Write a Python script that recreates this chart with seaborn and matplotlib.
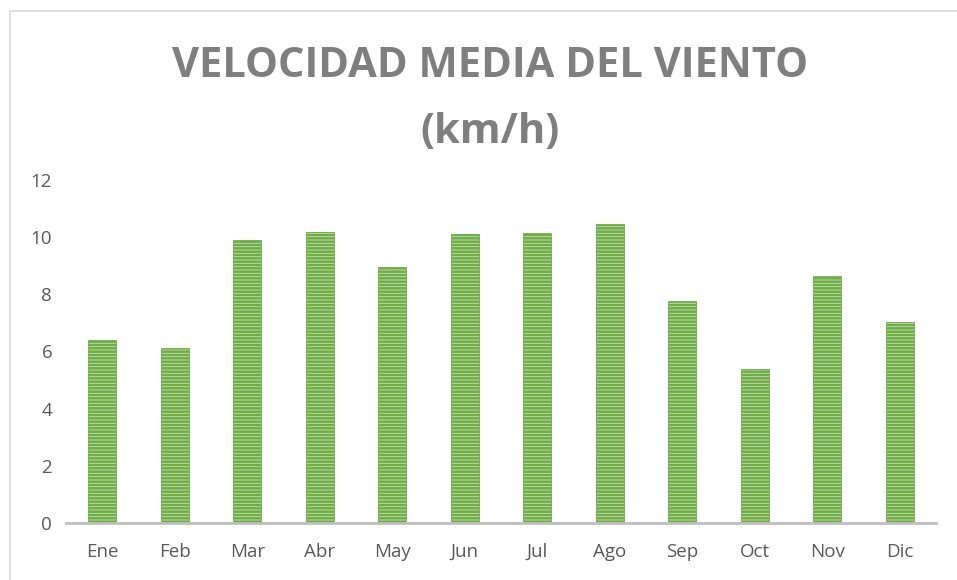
import matplotlib
matplotlib.use("Agg")
import matplotlib.pyplot as plt
import seaborn as sns
import pandas as pd
from matplotlib.patches import Rectangle

# Data
months = ["Ene", "Feb", "Mar", "Abr", "May", "Jun", "Jul", "Ago", "Sep", "Oct", "Nov", "Dic"]
speed = [6.4, 6.12, 9.9, 10.17, 8.95, 10.1, 10.14, 10.45, 7.76, 5.38, 8.64, 7.03]
yticks = [0, 2, 4, 6, 8, 10, 12]

df = pd.DataFrame({"mes": months, "velocidad": speed})

sns.set_style("white")
plt.rcParams['font.family'] = ['Open Sans', 'DejaVu Sans']
plt.rcParams['hatch.linewidth'] = 1.8

fig = plt.figure(figsize=(9.57, 5.8), dpi=100)
ax = fig.add_axes([0.069, 0.098, 0.909, 0.592])

sns.barplot(data=df, x="mes", y="velocidad", color="#c5e0b4", width=0.39,
            saturation=1, ax=ax)
for bar in ax.patches:
    bar.set_hatch("-----")
    bar.set_edgecolor("#70ad47")
    bar.set_linewidth(0.6)

ax.set_ylim(0, 12)
ax.set_yticks(yticks)
ax.set_xlim(-0.5, len(months) - 0.5)
ax.set_xlabel("")
ax.set_ylabel("")
ax.tick_params(axis="both", length=0, labelsize=13.5, labelcolor="#595959")
ax.tick_params(axis="y", pad=10)
ax.tick_params(axis="x", pad=14)
for s in ["top", "right", "left"]:
    ax.spines[s].set_visible(False)
ax.spines["bottom"].set_color("#bfbfbf")
ax.spines["bottom"].set_linewidth(2)

# Title
fig.text(0.512, 0.885, "VELOCIDAD MEDIA DEL VIENTO", ha="center", va="center",
         fontsize=30, fontweight="bold", color="#7f7f7f")
fig.text(0.512, 0.772, "(km/h)", ha="center", va="center",
         fontsize=30, fontweight="bold", color="#7f7f7f")

# outer frame
fig.patches.append(Rectangle((10 / 957, -0.1), 1.2, (1 - 11 / 580) + 0.1,
                             transform=fig.transFigure, fill=False,
                             edgecolor="#d9d9d9", linewidth=1.2))

fig.savefig("out.png", dpi=100)
